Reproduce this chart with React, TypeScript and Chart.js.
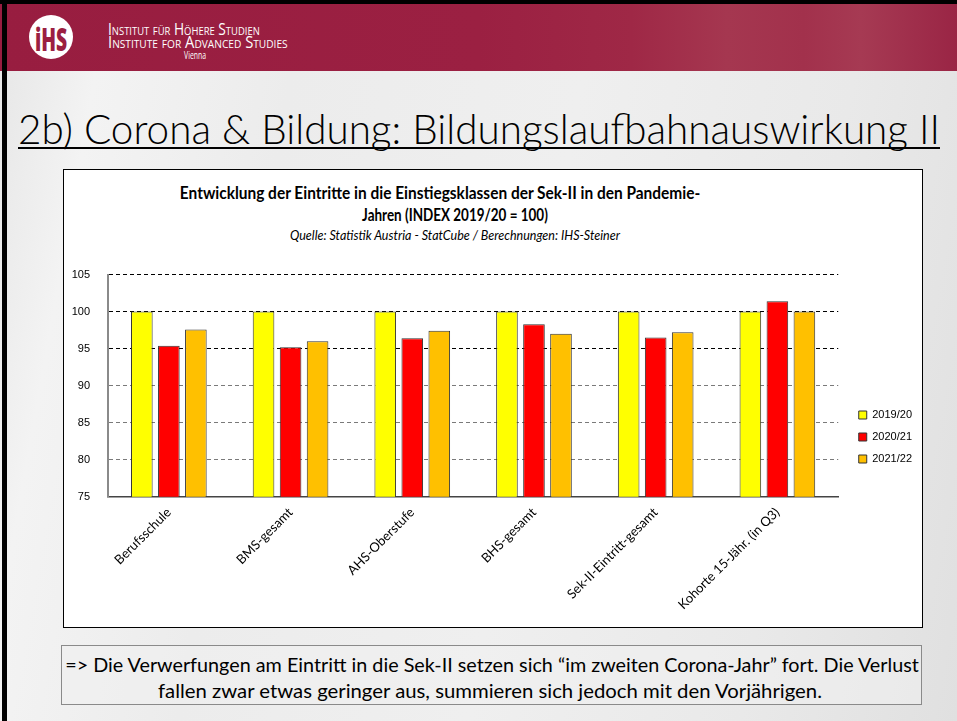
import React, { useEffect, useLayoutEffect, useRef, useState } from "react";
import { Chart, registerables } from "chart.js";

Chart.register(...registerables);

// ---- data ----
const categories = [
  "Berufsschule",
  "BMS-gesamt",
  "AHS-Oberstufe",
  "BHS-gesamt",
  "Sek-II-Eintritt-gesamt",
  "Kohorte 15-Jähr. (in Q3)",
];
const seriesNames = ["2019/20", "2020/21", "2021/22"];
const values2019 = [100, 100, 100, 100, 100, 100];
const values2020 = [95.4, 95.2, 96.4, 98.3, 96.5, 101.4];
const values2021 = [97.6, 96.0, 97.4, 97.0, 97.2, 100.0];
const seriesColors = ["#FFFF00", "#FF0000", "#FFC000"];
const yMin = 75;
const yMax = 105;
const yStep = 5;

const chartTitleLine1 = "Entwicklung der Eintritte in die Einstiegsklassen der Sek-II in den Pandemie-";
const chartTitleLine2 = "Jahren (INDEX 2019/20 = 100)";
const chartSubtitle = "Quelle: Statistik Austria - StatCube / Berechnungen: IHS-Steiner";
const slideTitle = "2b) Corona & Bildung: Bildungslaufbahnauswirkung II";
const noteLine1 = "=> Die Verwerfungen am Eintritt in die Sek-II setzen sich “im zweiten Corona-Jahr” fort. Die Verlust";
const noteLine2 = "fallen zwar etwas geringer aus, summieren sich jedoch mit den Vorjährigen.";

type FitProps = {
  text: string;
  x: number;
  cy: number;
  width: number;
  align?: "left" | "center" | "right";
  style?: React.CSSProperties;
};

function FitText({ text, x, cy, width, align = "center", style }: FitProps) {
  const ref = useRef<HTMLSpanElement>(null);
  const [s, setS] = useState(1);
  useLayoutEffect(() => {
    const measure = () => {
      const el = ref.current;
      if (!el) return;
      const w = el.offsetWidth;
      if (w > 0) setS(width / w);
    };
    measure();
    const f = (document as any).fonts;
    if (f && f.ready) f.ready.then(measure);
  }, [text, width]);
  const tx = align === "center" ? "-50%" : align === "right" ? "-100%" : "0";
  const origin = align === "center" ? "center center" : align === "right" ? "right center" : "left center";
  return (
    <div style={{ position: "absolute", left: x, top: cy, width: 0, height: 0 }}>
      <span
        ref={ref}
        style={{
          position: "absolute",
          left: 0,
          top: 0,
          whiteSpace: "nowrap",
          transformOrigin: origin,
          transform: `translate(${tx},-50%) scaleX(${s})`,
          lineHeight: "normal",
          ...style,
        }}
      >
        {text}
      </span>
    </div>
  );
}

function BarChart() {
  const canvasRef = useRef<HTMLCanvasElement>(null);
  useEffect(() => {
    const canvas = canvasRef.current;
    if (!canvas) return;
    const seriesValues = [values2019, values2020, values2021];
    const chart = new Chart(canvas, {
      type: "bar",
      data: {
        labels: categories,
        datasets: seriesNames.map((name, i) => ({
          label: name,
          data: seriesValues[i],
          backgroundColor: seriesColors[i],
          borderColor: "#333333",
          borderWidth: 1,
          categoryPercentage: 0.666,
          barPercentage: 0.8,
        })),
      },
      options: {
        animation: false,
        responsive: false,
        maintainAspectRatio: false,
        devicePixelRatio: 1,
        layout: { padding: { top: 13.7, bottom: 16.7, left: 0, right: 0 } },
        plugins: {
          title: { display: false },
          tooltip: { enabled: false },
          legend: {
            position: "right",
            align: "center",
            labels: {
              boxWidth: 8,
              boxHeight: 8,
              padding: 11,
              color: "#000",
              font: { family: "'Liberation Sans', Arial, sans-serif", size: 11 },
            },
          },
        },
        scales: {
          x: {
            grid: { display: false, drawTicks: false },
            border: { display: true, color: "#444", width: 1.5 },
            ticks: {
              autoSkip: false,
              maxRotation: 45,
              minRotation: 45,
              padding: 8,
              color: "#000",
              font: { family: "Lato, 'Open Sans', sans-serif", size: 13 },
            },
            afterFit: (s: any) => {
              s.height = 113.6;
            },
          },
          y: {
            min: yMin,
            max: yMax,
            ticks: {
              stepSize: yStep,
              padding: 18,
              color: "#000",
              font: { family: "'Liberation Sans', Arial, sans-serif", size: 11 },
            },
            grid: {
              drawTicks: false,
              lineWidth: 1,
              color: (ctx: any) => {
                const v = ctx.tick ? ctx.tick.value : 0;
                if (v <= yMin) return "rgba(0,0,0,0)";
                return v >= 95 ? "#000000" : "#7a7a7a";
              },
            },
            border: { display: true, color: "#8a8a8a", width: 2, dash: [4, 3] },
            afterFit: (s: any) => {
              s.width = 44;
            },
          },
          y2: {
            position: "right",
            display: true,
            grid: { display: false, drawOnChartArea: false, drawTicks: false },
            border: { display: false },
            ticks: { display: false },
            afterFit: (s: any) => {
              s.width = 9.5;
            },
          },
        },
      } as any,
    });
    return () => chart.destroy();
  }, []);
  return (
    <canvas
      ref={canvasRef}
      width={858}
      height={377}
      style={{ position: "absolute", left: 64, top: 250, width: 858, height: 377 }}
    />
  );
}

export default function App() {
  useEffect(() => {
    document.body.style.margin = "0";
  }, []);
  return (
    <div
      style={{
        position: "absolute",
        left: 0,
        top: 0,
        width: 957,
        height: 721,
        overflow: "hidden",
        background:
          "linear-gradient(100deg, #e6e6e6 0%, #f3f3f3 10%, #ececec 28%, #efefef 55%, #e9e9e9 80%, #e0e0e0 100%)",
        fontFamily: "Lato, sans-serif",
      }}
    >
      {/* header band */}
      <div
        style={{
          position: "absolute",
          left: 0,
          top: 0,
          width: 957,
          height: 71,
          background:
            "linear-gradient(90deg, #981d40 0%, #9b2042 50%, #9f2846 66%, #a53750 76%, #a2314c 84%, #a63a53 90%, #9a2545 100%)",
        }}
      />
      {/* black frame */}
      <div style={{ position: "absolute", left: 0, top: 0, width: 957, height: 4, background: "#000" }} />
      <div style={{ position: "absolute", left: 2, top: 0, width: 5, height: 721, background: "#000" }} />
      {/* logo */}
      <div
        style={{
          position: "absolute",
          left: 29,
          top: 15,
          width: 44,
          height: 44,
          borderRadius: "50%",
          background: "#ffffff",
        }}
      />
      <FitText
        text="iHS"
        x={51}
        cy={38}
        width={32}
        style={{ fontFamily: "'Open Sans', sans-serif", fontWeight: 800, fontSize: 32, color: "#9b1f42" }}
      />
      <FitText
        text="Institut für Höhere Studien"
        x={108}
        cy={29}
        width={152}
        align="left"
        style={{ fontVariant: "small-caps", fontFamily: "'Open Sans', sans-serif", fontSize: 16, color: "#fff" }}
      />
      <FitText
        text="Institute for Advanced Studies"
        x={108}
        cy={42}
        width={180}
        align="left"
        style={{ fontVariant: "small-caps", fontFamily: "'Open Sans', sans-serif", fontSize: 16, color: "#fff" }}
      />
      <FitText
        text="Vienna"
        x={206}
        cy={55}
        width={22}
        align="right"
        style={{ fontFamily: "'Open Sans', sans-serif", fontSize: 10, color: "#fff" }}
      />
      {/* slide title */}
      <FitText
        text={slideTitle}
        x={18}
        cy={128}
        width={922}
        align="left"
        style={{ fontFamily: "Lato, sans-serif", fontWeight: 300, fontSize: 41, color: "#000" }}
      />
      <div style={{ position: "absolute", left: 18, top: 147, width: 922, height: 2, background: "#000" }} />
      {/* chart box */}
      <div
        style={{
          position: "absolute",
          left: 63,
          top: 169,
          width: 858,
          height: 457,
          border: "1px solid #000",
          background: "#ffffff",
        }}
      />
      <FitText
        text={chartTitleLine1}
        x={440}
        cy={193}
        width={520}
        style={{ fontFamily: "Lato, sans-serif", fontWeight: 700, fontSize: 16.5, color: "#000" }}
      />
      <FitText
        text={chartTitleLine2}
        x={455}
        cy={215}
        width={186}
        style={{ fontFamily: "Lato, sans-serif", fontWeight: 700, fontSize: 16.5, color: "#000" }}
      />
      <FitText
        text={chartSubtitle}
        x={455}
        cy={235}
        width={330}
        style={{ fontFamily: "Lato, sans-serif", fontStyle: "italic", fontSize: 13, color: "#000" }}
      />
      <BarChart />
      {/* note box */}
      <div
        style={{
          position: "absolute",
          left: 61,
          top: 645,
          width: 859,
          height: 58,
          border: "1px solid #8a8a8a",
          background: "rgba(240,240,240,0.6)",
        }}
      />
      <FitText
        text={noteLine1}
        x={492}
        cy={664}
        width={854}
        style={{ fontFamily: "Lato, sans-serif", fontSize: 20, color: "#000" }}
      />
      <FitText
        text={noteLine2}
        x={490}
        cy={690}
        width={664}
        style={{ fontFamily: "Lato, sans-serif", fontSize: 20, color: "#000" }}
      />
    </div>
  );
}
